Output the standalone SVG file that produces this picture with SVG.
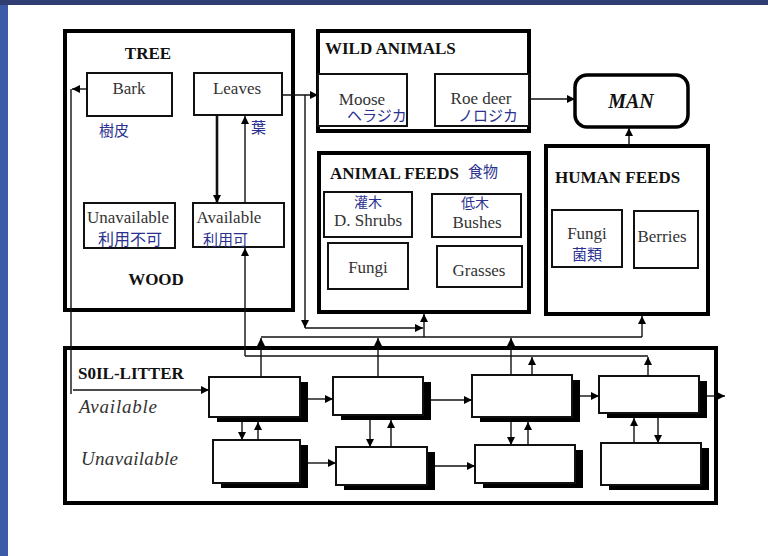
<svg xmlns="http://www.w3.org/2000/svg" width="768" height="556" viewBox="0 0 768 556">
  <defs>
    <marker id="ah" viewBox="0 0 10 10" refX="10" refY="5" markerWidth="8" markerHeight="8" orient="auto" markerUnits="userSpaceOnUse">
      <path d="M0,0 L10,5 L0,10 z" fill="#000"/>
    </marker>
    <style>
      .frame { fill: #fff; stroke: #000; stroke-width: 4; }
      .box { fill: #fff; stroke: #111; stroke-width: 2; }
      .shadow { fill: #000; }
      .wire { fill: none; stroke: #111; stroke-width: 1.4; }
      .arrow { fill: none; stroke: #111; stroke-width: 1.4; marker-end: url(#ah); }
      .thick { stroke-width: 2.6; }
      .head { font-family: "Liberation Serif", serif; font-weight: bold; font-size: 17px; fill: #111; }
      .lbl { font-family: "Liberation Serif", serif; font-size: 17px; fill: #333; text-anchor: middle; }
      .jp { font-family: "Liberation Sans", "Noto Sans CJK JP", sans-serif; font-size: 15px; fill: #2b3190; }
      .it { font-family: "Liberation Serif", serif; font-style: italic; font-size: 19px; fill: #333; }
    </style>
  </defs>

  <!-- page background and slide bands -->
  <rect x="0" y="0" width="768" height="556" fill="#fff"/>
  <rect x="0" y="0" width="8" height="556" fill="#3b5ba8"/>
  <rect x="0" y="0" width="768" height="5" fill="#2f3d72"/>

  <!-- TREE -->
  <g id="tree">
    <rect class="frame" x="65" y="31" width="228" height="279"/>
    <text class="head" x="148" y="59" text-anchor="middle">TREE</text>
    <text class="head" x="156" y="285" text-anchor="middle">WOOD</text>
  </g>
  <g id="bark">
    <rect class="box" x="87" y="73" width="85" height="43"/>
    <text class="lbl" x="129" y="94">Bark</text>
    <text class="jp" x="99" y="136">樹皮</text>
  </g>
  <g id="leaves">
    <rect class="box" x="194" y="73" width="88" height="42"/>
    <text class="lbl" x="237" y="94">Leaves</text>
    <text class="jp" x="251" y="133">葉</text>
  </g>
  <g id="wood-unavailable">
    <rect class="box" x="84" y="203" width="91" height="45"/>
    <text class="lbl" x="128" y="223">Unavailable</text>
    <text class="jp" x="98" y="245" style="font-size:16px">利用不可</text>
  </g>
  <g id="wood-available">
    <rect class="box" x="193" y="203" width="91" height="44"/>
    <text class="lbl" x="229" y="223">Available</text>
    <text class="jp" x="203" y="245">利用可</text>
  </g>

  <!-- WILD ANIMALS -->
  <g id="wild-animals">
    <rect class="frame" x="318" y="31" width="211" height="100"/>
    <text class="head" x="325" y="54">WILD ANIMALS</text>
  </g>
  <g id="moose">
    <rect class="box" x="318" y="74" width="89" height="52"/>
    <text class="lbl" x="362" y="105">Moose</text>
    <text class="jp" x="347" y="121">ヘラジカ</text>
  </g>
  <g id="roe-deer">
    <rect class="box" x="435" y="74" width="94" height="52"/>
    <text class="lbl" x="481" y="104">Roe deer</text>
    <text class="jp" x="458" y="121">ノロジカ</text>
  </g>

  <!-- MAN -->
  <g id="man">
    <rect x="575" y="75" width="113" height="52" rx="12" fill="#fff" stroke="#000" stroke-width="3.5"/>
    <text x="631" y="108" text-anchor="middle" style="font-family:'Liberation Serif',serif;font-weight:bold;font-style:italic;font-size:20px;fill:#111">MAN</text>
  </g>

  <!-- ANIMAL FEEDS -->
  <g id="animal-feeds">
    <rect class="frame" x="319" y="153" width="210" height="159"/>
    <text class="head" x="330" y="179">ANIMAL FEEDS</text>
    <text class="jp" x="468" y="177">食物</text>
  </g>
  <g id="shrubs">
    <rect class="box" x="324" y="192" width="88" height="45"/>
    <text class="jp" x="354" y="207" style="font-size:14px">灌木</text>
    <text class="lbl" x="368" y="226">D. Shrubs</text>
  </g>
  <g id="bushes">
    <rect class="box" x="432" y="194" width="89" height="43"/>
    <text class="jp" x="461" y="208" style="font-size:14px">低木</text>
    <text class="lbl" x="477" y="228">Bushes</text>
  </g>
  <g id="animal-fungi">
    <rect class="box" x="328" y="243" width="80" height="46"/>
    <text class="lbl" x="368" y="273">Fungi</text>
  </g>
  <g id="grasses">
    <rect class="box" x="437" y="246" width="85" height="41"/>
    <text class="lbl" x="479" y="276">Grasses</text>
  </g>

  <!-- HUMAN FEEDS -->
  <g id="human-feeds">
    <rect class="frame" x="546" y="146" width="162" height="168"/>
    <text class="head" x="555" y="183">HUMAN FEEDS</text>
  </g>
  <g id="human-fungi">
    <rect class="box" x="552" y="210" width="70" height="57"/>
    <text class="lbl" x="587" y="239">Fungi</text>
    <text class="jp" x="572" y="260">菌類</text>
  </g>
  <g id="berries">
    <rect class="box" x="634" y="211" width="64" height="57"/>
    <text class="lbl" x="662" y="242">Berries</text>
  </g>

  <!-- SOIL-LITTER -->
  <g id="soil-litter">
    <rect class="frame" x="65" y="348" width="651" height="155"/>
    <text class="head" x="78" y="379">S0IL-LITTER</text>
    <text class="it" x="79" y="413" textLength="78" lengthAdjust="spacing">Available</text>
    <text class="it" x="81" y="465" textLength="97" lengthAdjust="spacing">Unavailable</text>
  </g>
  <g id="soil-a1"><rect class="shadow" x="217" y="382" width="91" height="40"/><rect class="box" x="209" y="377" width="91" height="40"/></g>
  <g id="soil-a2"><rect class="shadow" x="341" y="382" width="90" height="38"/><rect class="box" x="333" y="377" width="90" height="38"/></g>
  <g id="soil-a3"><rect class="shadow" x="480" y="380" width="100" height="42"/><rect class="box" x="472" y="375" width="100" height="42"/></g>
  <g id="soil-a4"><rect class="shadow" x="607" y="381" width="100" height="37"/><rect class="box" x="599" y="376" width="100" height="37"/></g>
  <g id="soil-u1"><rect class="shadow" x="221" y="445" width="87" height="43"/><rect class="box" x="213" y="440" width="87" height="43"/></g>
  <g id="soil-u2"><rect class="shadow" x="344" y="452" width="91" height="38"/><rect class="box" x="336" y="447" width="91" height="38"/></g>
  <g id="soil-u3"><rect class="shadow" x="483" y="450" width="100" height="38"/><rect class="box" x="475" y="445" width="100" height="38"/></g>
  <g id="soil-u4"><rect class="shadow" x="609" y="448" width="100" height="42"/><rect class="box" x="601" y="443" width="100" height="42"/></g>

  <!-- connectors -->
  <g id="connectors">
    <!-- tree internals -->
    <line class="arrow" x1="87" y1="89" x2="72" y2="89"/>
    <line class="wire" x1="71" y1="89" x2="71" y2="394"/>
    <line class="arrow" x1="73" y1="390" x2="209" y2="390"/>
    <line class="arrow thick" x1="217" y1="116" x2="217" y2="203"/>
    <line class="arrow" x1="245" y1="203" x2="245" y2="116"/>
    <!-- leaves to animals and feeds -->
    <line class="arrow" x1="283" y1="95" x2="318" y2="95"/>
    <line class="arrow" x1="305" y1="95" x2="305" y2="328"/>
    <line class="arrow" x1="305" y1="328" x2="423" y2="328"/>
    <!-- to MAN -->
    <line class="arrow" x1="529" y1="99" x2="575" y2="99"/>
    <line class="arrow" x1="629" y1="145" x2="629" y2="128"/>
    <!-- soil collector to feeds -->
    <line class="wire" x1="261" y1="337" x2="642" y2="337"/>
    <line class="arrow" x1="424" y1="337" x2="424" y2="314"/>
    <line class="arrow" x1="642" y1="337" x2="642" y2="316"/>
    <line class="arrow" x1="261" y1="377" x2="261" y2="338"/>
    <line class="arrow" x1="378" y1="377" x2="378" y2="338"/>
    <line class="arrow" x1="511" y1="375" x2="511" y2="338"/>
    <!-- soil collector to wood -->
    <line class="wire" x1="245" y1="356" x2="648" y2="356"/>
    <line class="arrow" x1="245" y1="356" x2="245" y2="248"/>
    <line class="arrow" x1="532" y1="375" x2="532" y2="357"/>
    <line class="arrow" x1="648" y1="376" x2="648" y2="357"/>
    <!-- soil horizontal flows -->
    <line class="arrow" x1="308" y1="399" x2="333" y2="399"/>
    <line class="arrow" x1="431" y1="400" x2="472" y2="400"/>
    <line class="arrow" x1="580" y1="396" x2="599" y2="396"/>
    <line class="arrow" x1="707" y1="396" x2="725" y2="396"/>
    <line class="arrow" x1="308" y1="463" x2="336" y2="463"/>
    <line class="arrow" x1="435" y1="466" x2="475" y2="466"/>
    <!-- soil vertical exchanges -->
    <line class="arrow" x1="242" y1="422" x2="242" y2="440"/>
    <line class="arrow" x1="258" y1="440" x2="258" y2="422"/>
    <line class="arrow" x1="370" y1="420" x2="370" y2="447"/>
    <line class="arrow" x1="391" y1="447" x2="391" y2="420"/>
    <line class="arrow" x1="511" y1="422" x2="511" y2="445"/>
    <line class="arrow" x1="528" y1="445" x2="528" y2="422"/>
    <line class="arrow" x1="634" y1="443" x2="634" y2="418"/>
    <line class="arrow" x1="658" y1="418" x2="658" y2="443"/>
  </g>
</svg>
